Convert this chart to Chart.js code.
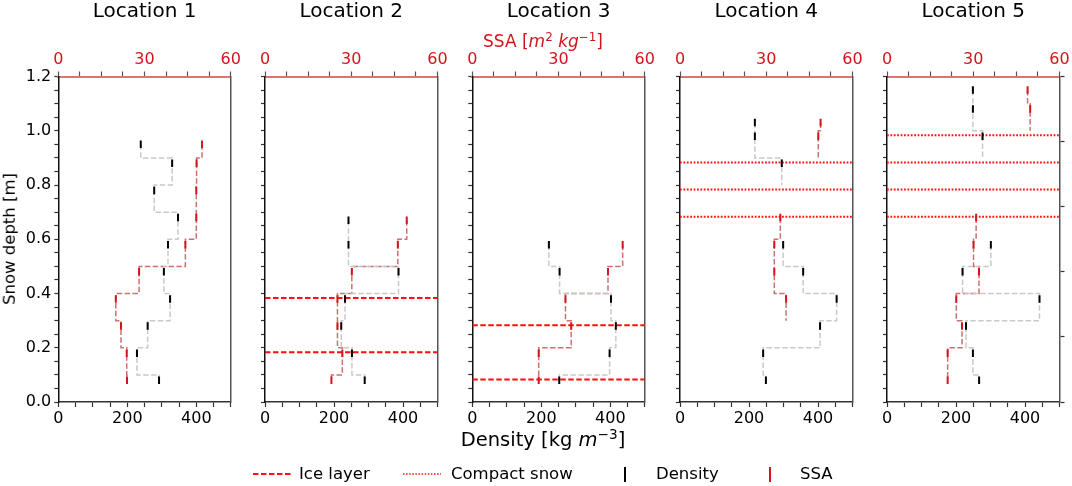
<!DOCTYPE html>
<html>
<head>
<meta charset="utf-8">
<title>Snow profiles</title>
<script src="https://cdn.jsdelivr.net/npm/chart.js@4.4.1/dist/chart.umd.min.js"></script>
<style>
  html, body { margin: 0; padding: 0; background: #fff; }
  #fig { position: relative; width: 1072px; height: 486px; overflow: hidden;
         font-family: 'DejaVu Sans', sans-serif; color: #000; }
  #fig canvas { position: absolute; left: 0; top: 0; }
  .txt { position: absolute; white-space: nowrap; line-height: 1; }
  .sup { font-size: 70%; vertical-align: 0.5em; line-height: 0; }
  .legline { position: absolute; }
</style>
</head>
<body>
<div id="fig"></div>
<script>
// ==========================================
// DATA
// ==========================================
const locations = ['Location 1', 'Location 2', 'Location 3', 'Location 4', 'Location 5'];

// sample depths [m] and values; null = no measurement
const depth1   = [0.95, 0.88, 0.78, 0.68, 0.58, 0.48, 0.38, 0.28, 0.18, 0.08];
const density1 = [239, 330, 278, 347, 318, 306, 324, 259, 228, 292];
const ssa1     = [50.0, 48.1, 48.0, 48.0, 44.2, 28.1, 20.0, 21.8, 23.8, 23.9];

const depth2   = [0.67, 0.58, 0.48, 0.38, 0.28, 0.18, 0.08];
const density2 = [242, 242, 387, 232, 221, 252, 289];
const ssa2     = [49.3, 46.2, 30.2, 25.2, 25.2, 26.9, 23.1];

const depth3   = [0.58, 0.48, 0.38, 0.28, 0.18, 0.08];
const density3 = [222, 253, 402, 416, 398, 252];
const ssa3     = [52.3, 47.2, 32.4, 34.4, 23.1, 23.1];

const depth4   = [1.03, 0.98, 0.88, 0.78, 0.68, 0.58, 0.48, 0.38, 0.28, 0.18, 0.08];
const density4 = [217, 217, 295, null, null, 299, 357, 454, 406, 241, 249];
const ssa4     = [48.9, 48.1, null, null, 34.9, 32.8, 32.8, 36.9, null, null, null];

const depth5   = [1.15, 1.08, 0.98, 0.88, 0.78, 0.68, 0.58, 0.48, 0.38, 0.28, 0.18, 0.08];
const density5 = [249, 249, 277, null, null, null, 301, 219, 442, 229, 249, 267];
const ssa5     = [48.9, 49.8, null, null, null, 31.0, 30.1, 32.0, 24.1, 26.1, 21.1, 21.1];

// layer depths [m]
const ice2 = [0.383, 0.183];
const ice3 = [0.283, 0.083];
const compact4 = [0.883, 0.783, 0.683];
const compact5 = [0.983, 0.883, 0.783, 0.683];

// axes
const densityRange = [0, 500];
const ssaRange = [0, 60];
const depthRange = [0, 1.2];
const densityTicks = [0, 200, 400];
const ssaTicks = [0, 30, 60];
const depthTicks = [0, 0.2, 0.4, 0.6, 0.8, 1.0, 1.2];

const profiles = [
    { depth: depth1, density: density1, ssa: ssa1, ice: [],   compact: [] },
    { depth: depth2, density: density2, ssa: ssa2, ice: ice2, compact: [] },
    { depth: depth3, density: density3, ssa: ssa3, ice: ice3, compact: [] },
    { depth: depth4, density: density4, ssa: ssa4, ice: [],   compact: compact4 },
    { depth: depth5, density: density5, ssa: ssa5, ice: [],   compact: compact5 },
];

// ==========================================
// LAYOUT / STYLE
// ==========================================
const FIG_W = 1072, FIG_H = 486;
const PANEL_LEFT = [58.3, 265, 472.3, 680, 887];
const PANEL_W = 172.5;
const PLOT_TOP = 76.5, PLOT_BOTTOM = 402;
const Y_AXIS_W = 45, YR_AXIS_W = 12, X_AXIS_H = 35, XS_AXIS_H = 30;

const FONT = "'DejaVu Sans', sans-serif";
const SPINE = '#333333';
const SSA_SPINE = '#e07272';
const RED_TEXT = '#d4141c';
const DENS_LINE = '#c9c9c9';
const SSA_LINE = '#cc7070';
const LAYER_RED = '#ff1010';
const STEP_EDGE = 0.02;   // layer boundary sits this far above each sample

const fig = document.getElementById('fig');

// step profile: vertical at each value, horizontal at layer boundaries
function stepLine(depth, vals) {
    const pts = [];
    for (let i = 0; i < depth.length; i++) {
        const v = vals[i];
        const prev = i > 0 ? vals[i - 1] : null;
        const edge = depth[i] + STEP_EDGE;
        if (prev !== null && v !== null) {
            pts.push({ x: prev, y: edge }, { x: v, y: edge });
        } else if (prev !== null) {
            pts.push({ x: prev, y: edge }, { x: null, y: null });
        } else if (v !== null) {
            pts.push({ x: v, y: depth[i] });
        }
    }
    const last = depth.length - 1;
    if (vals[last] !== null) pts.push({ x: vals[last], y: depth[last] });
    return pts;
}

function markers(depth, vals) {
    const pts = [];
    depth.forEach((d, i) => { if (vals[i] !== null) pts.push({ x: vals[i], y: d }); });
    return pts;
}

const near = (list, v) => list.some(t => Math.abs(t - v) < 1e-6);

function makePanel(k) {
    const p = profiles[k];
    const left = PANEL_LEFT[k];
    const canvas = document.createElement('canvas');
    canvas.width = FIG_W;
    canvas.height = FIG_H;
    fig.appendChild(canvas);

    const datasets = [];
    p.ice.forEach(d => datasets.push({
        data: [{ x: densityRange[0], y: d }, { x: densityRange[1], y: d }],
        showLine: true, borderColor: LAYER_RED, borderWidth: 2, borderDash: [5.5, 2.5],
        pointRadius: 0, order: 3
    }));
    p.compact.forEach(d => datasets.push({
        data: [{ x: densityRange[0], y: d }, { x: densityRange[1], y: d }],
        showLine: true, borderColor: LAYER_RED, borderWidth: 2, borderDash: [1.8, 1.6],
        pointRadius: 0, order: 3
    }));
    datasets.push({
        data: stepLine(p.depth, p.density), showLine: true,
        borderColor: DENS_LINE, borderWidth: 1.5, borderDash: [5.5, 2.4],
        pointRadius: 0, order: 2
    });
    datasets.push({
        data: stepLine(p.depth, p.ssa), xAxisID: 'xs', showLine: true,
        borderColor: SSA_LINE, borderWidth: 1.5, borderDash: [5.5, 2.4],
        pointRadius: 0, order: 2
    });
    datasets.push({
        data: markers(p.depth, p.density), showLine: false,
        pointStyle: 'line', rotation: 90, pointRadius: 3.75,
        borderColor: '#000', backgroundColor: '#000', borderWidth: 2, order: 1
    });
    datasets.push({
        data: markers(p.depth, p.ssa), xAxisID: 'xs', showLine: false,
        pointStyle: 'line', rotation: 90, pointRadius: 3.75,
        borderColor: RED_TEXT, backgroundColor: RED_TEXT, borderWidth: 2, order: 1
    });

    new Chart(canvas, {
        type: 'scatter',
        data: { datasets },
        options: {
            responsive: false, animation: false, events: [],
            layout: { padding: {
                left: left - Y_AXIS_W,
                right: FIG_W - left - PANEL_W - YR_AXIS_W,
                top: PLOT_TOP - XS_AXIS_H,
                bottom: FIG_H - PLOT_BOTTOM - X_AXIS_H
            } },
            plugins: { legend: { display: false }, tooltip: { enabled: false }, title: { display: false } },
            scales: {
                x: {
                    type: 'linear', position: 'bottom', min: densityRange[0], max: densityRange[1],
                    afterFit: s => { s.height = X_AXIS_H; },
                    border: { display: true, color: SPINE, width: 1.5 },
                    grid: { drawOnChartArea: false, tickLength: 5, tickColor: SPINE, tickWidth: 1.2 },
                    ticks: { stepSize: 50, autoSkip: false, maxRotation: 0, padding: 2, color: '#000',
                             font: { family: FONT, size: 16 },
                             callback: v => near(densityTicks, v) ? String(v) : '' }
                },
                xs: {
                    type: 'linear', position: 'top', min: ssaRange[0], max: ssaRange[1],
                    afterFit: s => { s.height = XS_AXIS_H; },
                    border: { display: true, color: SSA_SPINE, width: 2 },
                    grid: { drawOnChartArea: false, tickLength: 5, tickColor: '#555', tickWidth: 1.2 },
                    ticks: { stepSize: 7.5, autoSkip: false, maxRotation: 0, padding: 2, color: RED_TEXT,
                             font: { family: FONT, size: 16 },
                             callback: v => near(ssaTicks, v) ? String(v) : '' }
                },
                y: {
                    type: 'linear', position: 'left', min: depthRange[0], max: depthRange[1],
                    afterFit: s => { s.width = Y_AXIS_W; },
                    border: { display: true, color: '#111', width: 1.5 },
                    grid: { drawOnChartArea: false, tickLength: 4, tickColor: SPINE, tickWidth: 1.2 },
                    ticks: { display: k === 0, stepSize: 0.05, autoSkip: false, padding: 3, color: '#000',
                             font: { family: FONT, size: 16 },
                             callback: v => near(depthTicks, v) ? v.toFixed(1) : '' }
                },
                yr: {
                    type: 'linear', position: 'right', min: 0, max: 5,
                    afterFit: s => { s.width = YR_AXIS_W; },
                    border: { display: true, color: '#555', width: 1.5 },
                    grid: { drawOnChartArea: false, drawTicks: k === 4, tickLength: 5, tickColor: SPINE, tickWidth: 1.2 },
                    ticks: { display: false, stepSize: 1, autoSkip: false }
                }
            }
        }
    });
}

profiles.forEach((p, k) => makePanel(k));

// ==========================================
// TEXT (titles, axis labels, legend)
// ==========================================
function addText(html, x, baseline, size, align, color) {
    const el = document.createElement('div');
    el.className = 'txt';
    el.innerHTML = html;
    el.style.fontSize = size + 'px';
    el.style.top = (baseline - 0.846 * size) + 'px';
    el.style.left = x + 'px';
    if (align === 'center') el.style.transform = 'translateX(-50%)';
    if (color) el.style.color = color;
    fig.appendChild(el);
    return el;
}

locations.forEach((name, k) => addText(name, PANEL_LEFT[k] + PANEL_W / 2, 17.3, 20, 'center'));

addText('SSA [<i>m</i><span class="sup">2</span> <i>kg</i><span class="sup">\u22121</span>]',
        543, 47.3, 17, 'center', RED_TEXT);
addText('Density [kg <i>m</i><span class="sup">\u22123</span>]', 543, 446.7, 19.5, 'center');

const yl = document.createElement('div');
yl.className = 'txt';
yl.textContent = 'Snow depth [m]';
yl.style.fontSize = '16.5px';
yl.style.left = '10.3px';
yl.style.top = '239px';
yl.style.transform = 'translate(-50%, -50%) rotate(-90deg)';
fig.appendChild(yl);

// legend
function legendSample(x1, x2, y, color, dash, width) {
    const svg = document.createElementNS('http://www.w3.org/2000/svg', 'svg');
    svg.setAttribute('class', 'legline');
    svg.setAttribute('width', x2 - x1);
    svg.setAttribute('height', 20);
    svg.style.left = x1 + 'px';
    svg.style.top = (y - 10) + 'px';
    const ln = document.createElementNS('http://www.w3.org/2000/svg', 'line');
    ln.setAttribute('x1', 0); ln.setAttribute('x2', x2 - x1);
    ln.setAttribute('y1', 10); ln.setAttribute('y2', 10);
    ln.setAttribute('stroke', color);
    ln.setAttribute('stroke-width', width);
    if (dash) ln.setAttribute('stroke-dasharray', dash);
    svg.appendChild(ln);
    fig.appendChild(svg);
}
function legendTick(x, y1, y2, color) {
    const svg = document.createElementNS('http://www.w3.org/2000/svg', 'svg');
    svg.setAttribute('class', 'legline');
    svg.setAttribute('width', 6);
    svg.setAttribute('height', y2 - y1);
    svg.style.left = (x - 3) + 'px';
    svg.style.top = y1 + 'px';
    const ln = document.createElementNS('http://www.w3.org/2000/svg', 'line');
    ln.setAttribute('x1', 3); ln.setAttribute('x2', 3);
    ln.setAttribute('y1', 0); ln.setAttribute('y2', y2 - y1);
    ln.setAttribute('stroke', color);
    ln.setAttribute('stroke-width', 2);
    svg.appendChild(ln);
    fig.appendChild(svg);
}
const LEG_Y = 474, LEG_BASE = 479.5, LEG_FS = 16.5;
legendSample(253, 291, LEG_Y, LAYER_RED, '5.5 2.5', 2);
addText('Ice layer', 299, LEG_BASE, LEG_FS, 'left');
legendSample(403, 441, LEG_Y, LAYER_RED, '1.5 1.6', 1.5);
addText('Compact snow', 451, LEG_BASE, LEG_FS, 'left');
legendTick(625, 466.5, 482, '#000');
addText('Density', 656, LEG_BASE, LEG_FS, 'left');
legendTick(770, 466.5, 482, RED_TEXT);
addText('SSA', 800, LEG_BASE, LEG_FS, 'left');
</script>
</body>
</html>
